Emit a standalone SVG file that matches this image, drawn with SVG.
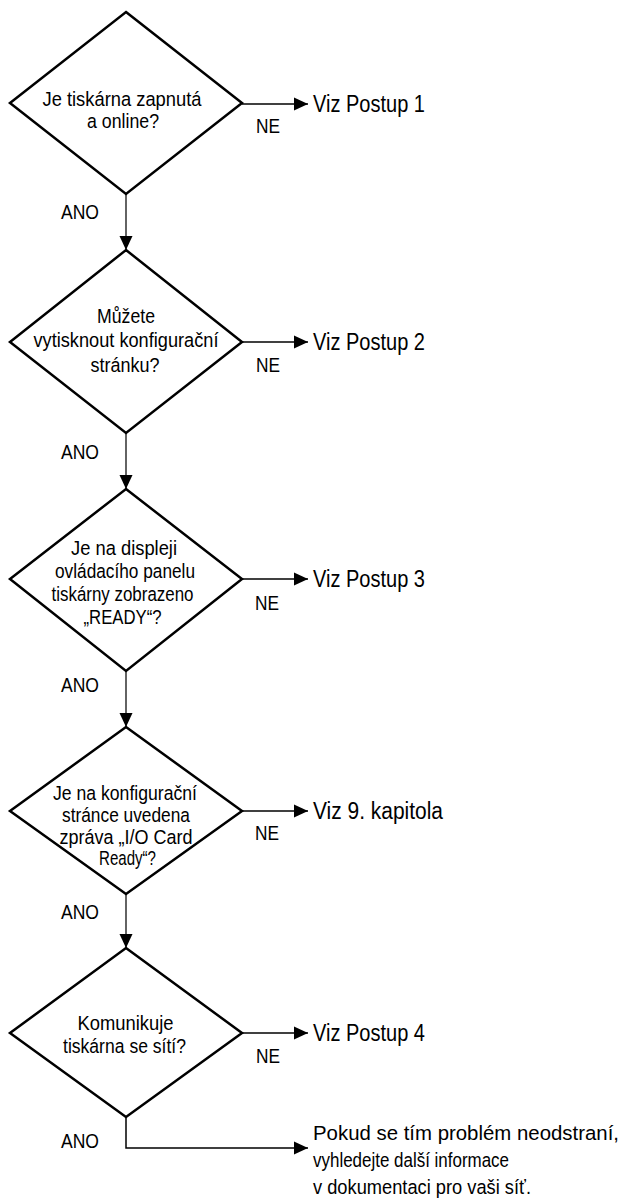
<svg xmlns="http://www.w3.org/2000/svg" width="627" height="1203" viewBox="0 0 627 1203">
<style>
.d{fill:#fff;stroke:#000;stroke-width:2.5;stroke-linejoin:miter}
.t{font-family:"Liberation Sans",Arial,sans-serif;font-size:20.5px;fill:#000;text-anchor:middle}
.l{font-family:"Liberation Sans",Arial,sans-serif;font-size:21px;fill:#000}
.r{font-family:"Liberation Sans",Arial,sans-serif;font-size:23px;fill:#000}
.f{font-family:"Liberation Sans",Arial,sans-serif;font-size:20.5px;fill:#000}
.c{fill:none;stroke:#000;stroke-width:1.5}
.v{fill:none;stroke:#222;stroke-width:1.4}
</style>
<defs>
<marker id="ah" markerWidth="14" markerHeight="14" viewBox="0 0 14 14" refX="14" refY="7" orient="auto" markerUnits="userSpaceOnUse">
<path d="M0,0.5 L14,7 L0,13.5 Z" fill="#000"/>
</marker>
</defs>
<g id="connectors">
<line class="v" x1="126" y1="194" x2="126" y2="250" marker-end="url(#ah)"/>
<line class="v" x1="126" y1="433" x2="126" y2="489" marker-end="url(#ah)"/>
<line class="v" x1="126" y1="671" x2="126" y2="727" marker-end="url(#ah)"/>
<line class="v" x1="126" y1="894" x2="126" y2="948" marker-end="url(#ah)"/>
<line class="c" x1="242" y1="104" x2="308" y2="104" marker-end="url(#ah)"/>
<line class="c" x1="242" y1="342" x2="308" y2="342" marker-end="url(#ah)"/>
<line class="c" x1="242" y1="579" x2="308" y2="579" marker-end="url(#ah)"/>
<line class="c" x1="242" y1="811" x2="308" y2="811" marker-end="url(#ah)"/>
<line class="c" x1="242" y1="1033" x2="308" y2="1033" marker-end="url(#ah)"/>
<polyline class="c" points="126,1117 126,1148 308,1148" marker-end="url(#ah)"/>
<text class="l" x="256" y="133" textLength="24" lengthAdjust="spacingAndGlyphs">NE</text>
<text class="l" x="256" y="372" textLength="24" lengthAdjust="spacingAndGlyphs">NE</text>
<text class="l" x="255" y="610" textLength="24" lengthAdjust="spacingAndGlyphs">NE</text>
<text class="l" x="255" y="840" textLength="24" lengthAdjust="spacingAndGlyphs">NE</text>
<text class="l" x="256" y="1063" textLength="24" lengthAdjust="spacingAndGlyphs">NE</text>
<text class="l" x="61" y="219" textLength="38" lengthAdjust="spacingAndGlyphs">ANO</text>
<text class="l" x="61" y="459" textLength="38" lengthAdjust="spacingAndGlyphs">ANO</text>
<text class="l" x="61" y="692" textLength="38" lengthAdjust="spacingAndGlyphs">ANO</text>
<text class="l" x="61" y="919" textLength="38" lengthAdjust="spacingAndGlyphs">ANO</text>
<text class="l" x="61" y="1148" textLength="38" lengthAdjust="spacingAndGlyphs">ANO</text>
</g>
<g id="q1">
<polygon class="d" points="126,12 242,103 126,194 10,103"/>
<text class="t" x="122" y="106" textLength="159" lengthAdjust="spacingAndGlyphs">Je tiskárna zapnutá</text>
<text class="t" x="123" y="128" textLength="72" lengthAdjust="spacingAndGlyphs">a online?</text>
</g>
<g id="q2">
<polygon class="d" points="126,250 242,342 126,433 10,342"/>
<text class="t" x="126" y="323" textLength="58" lengthAdjust="spacingAndGlyphs">Můžete</text>
<text class="t" x="126" y="347" textLength="185" lengthAdjust="spacingAndGlyphs">vytisknout konfigurační</text>
<text class="t" x="125" y="372" textLength="69" lengthAdjust="spacingAndGlyphs">stránku?</text>
</g>
<g id="q3">
<polygon class="d" points="126,489 242,579 126,671 10,579"/>
<text class="t" x="124" y="555" textLength="106" lengthAdjust="spacingAndGlyphs">Je na displeji</text>
<text class="t" x="125" y="578" textLength="140" lengthAdjust="spacingAndGlyphs">ovládacího panelu</text>
<text class="t" x="122.5" y="601" textLength="142" lengthAdjust="spacingAndGlyphs">tiskárny zobrazeno</text>
<text class="t" x="122.5" y="624" textLength="78" lengthAdjust="spacingAndGlyphs">„READY“?</text>
</g>
<g id="q4">
<polygon class="d" points="126,727 242,811 126,894 10,811"/>
<text class="t" x="125" y="800" textLength="144" lengthAdjust="spacingAndGlyphs">Je na konfigurační</text>
<text class="t" x="126" y="822" textLength="128" lengthAdjust="spacingAndGlyphs">stránce uvedena</text>
<text class="t" x="126" y="844" textLength="133" lengthAdjust="spacingAndGlyphs">zpráva „I/O Card</text>
<text class="t" x="127.5" y="865" textLength="57" lengthAdjust="spacingAndGlyphs">Ready“?</text>
</g>
<g id="q5">
<polygon class="d" points="126,948 242,1033 126,1117 10,1033"/>
<text class="t" x="125.5" y="1030" textLength="96" lengthAdjust="spacingAndGlyphs">Komunikuje</text>
<text class="t" x="124.5" y="1053" textLength="123" lengthAdjust="spacingAndGlyphs">tiskárna se sítí?</text>
</g>
<g id="out1"><text class="r" x="313" y="112" textLength="112" lengthAdjust="spacingAndGlyphs">Viz Postup 1</text></g>
<g id="out2"><text class="r" x="313" y="350" textLength="112" lengthAdjust="spacingAndGlyphs">Viz Postup 2</text></g>
<g id="out3"><text class="r" x="313" y="587" textLength="112" lengthAdjust="spacingAndGlyphs">Viz Postup 3</text></g>
<g id="out4"><text class="r" x="313" y="819" textLength="130" lengthAdjust="spacingAndGlyphs">Viz 9. kapitola</text></g>
<g id="out5"><text class="r" x="313" y="1041" textLength="112" lengthAdjust="spacingAndGlyphs">Viz Postup 4</text></g>
<g id="out6">
<text class="f" x="313" y="1140" textLength="306" lengthAdjust="spacingAndGlyphs">Pokud se tím problém neodstraní,</text>
<text class="f" x="313" y="1167" textLength="196" lengthAdjust="spacingAndGlyphs">vyhledejte další informace</text>
<text class="f" x="313" y="1194" textLength="218" lengthAdjust="spacingAndGlyphs">v dokumentaci pro vaši síť.</text>
</g>
</svg>
